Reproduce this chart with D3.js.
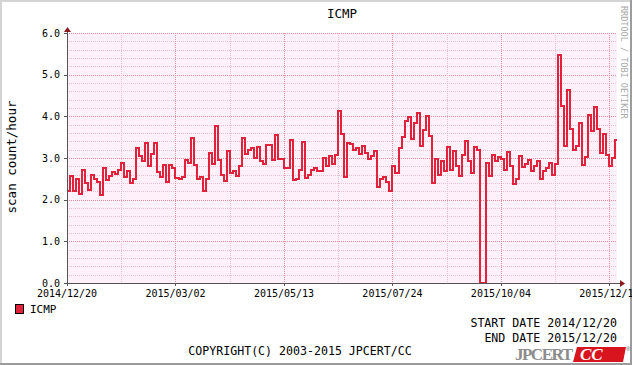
<!DOCTYPE html>
<html>
<head>
<meta charset="utf-8">
<script src="https://d3js.org/d3.v7.min.js"></script>
<style>
  html, body { margin: 0; padding: 0; background: #fff; }
</style>
</head>
<body>
<div id="chart"></div>
<script>
// ---- data ----
var startDate = "2014/12/20";
var endDate = "2015/12/20";
var stepDays = 2;   // one value per 2 days
var seriesName = "ICMP";
var values = [
  2.2, 2.56, 2.2, 2.5, 2.14, 2.72, 2.4, 2.24, 2.6, 2.5,
  2.42, 2.12, 2.75, 2.48, 2.58, 2.66, 2.62, 2.72, 2.88, 2.54,
  2.7, 2.4, 2.5, 3.24, 3.05, 2.92, 3.36, 2.8, 3.1, 3.36,
  2.66, 2.55, 2.84, 2.42, 2.84, 2.76, 2.52, 2.5, 2.55, 2.96,
  2.88, 3.48, 2.84, 2.5, 2.54, 2.2, 2.5, 3.12, 2.85, 3.76,
  2.95, 2.6, 2.44, 3.18, 2.64, 2.7, 2.56, 2.8, 3.48, 3.1,
  3.2, 3.24, 3.0, 3.26, 2.94, 2.85, 3.32, 3.32, 2.95, 3.56,
  2.98, 2.98, 2.75, 2.76, 3.44, 2.48, 2.5, 2.72, 3.38, 2.52,
  2.6, 2.72, 2.75, 2.7, 2.7, 3.0, 2.8, 3.05, 2.85, 3.08,
  4.14, 3.58, 2.55, 3.36, 3.34, 3.2, 3.24, 3.1, 3.3, 3.12,
  2.98, 3.04, 3.16, 2.3, 2.5, 2.55, 2.42, 2.22, 2.8, 2.65,
  3.24, 3.5, 3.88, 3.98, 3.46, 3.84, 4.08, 3.28, 3.68, 4.02,
  3.52, 2.4, 2.98, 2.6, 2.94, 2.68, 3.26, 2.72, 3.18, 2.8,
  2.56, 3.08, 3.4, 2.94, 2.64, 3.26, 3.2, 0, 0, 2.88,
  2.58, 3.08, 2.94, 3.02, 2.98, 2.72, 3.14, 2.8, 2.38, 2.5,
  3.04, 2.78, 2.85, 2.96, 2.7, 2.8, 2.92, 2.5, 2.7, 2.75,
  2.88, 2.6, 2.85, 5.48, 4.24, 3.3, 4.64, 3.7, 3.2, 3.3,
  3.84, 2.84, 3.02, 4.04, 3.64, 4.22, 3.7, 3.12, 3.58, 3.08,
  2.8, 3.0, 3.44
];
var yTicks = [0, 1, 2, 3, 4, 5, 6];
var xTickLabels = ["2014/12/20", "2015/03/02", "2015/05/13", "2015/07/24", "2015/10/04", "2015/12/15"];
var xMinorLabels = ["2015/01/25", "2015/04/07", "2015/06/18", "2015/08/29", "2015/11/09"];

(function(){
	var W = 632, H = 365;
	var pLeft = 67, pRight = 617, pTop = 33, pBottom = 283;
	var lineColor = "#e2223a";
	var mono = "'DejaVu Sans Mono', monospace";

	var parse = d3.utcParse("%Y/%m/%d");
	var fmt = d3.utcFormat("%Y/%m/%d");
	var t0 = parse(startDate), t1 = parse(endDate);

	var points = values.map(function(v, i){
		return { date: d3.utcDay.offset(t0, i*stepDays), value: v };
	});
	// close the last step at the end date
	points.push({ date: t1, value: values[values.length-1] });

	var x = d3.scaleUtc().domain([t0, t1]).range([pLeft, pRight]);
	var y = d3.scaleLinear().domain([0, 6]).range([pBottom, pTop]);

	var svg = d3.select("#chart").append("svg")
		.attr("width", W)
		.attr("height", H)
		.style("font-family", mono);

	// frame
	svg.append("rect").attr("x", 0).attr("y", 0).attr("width", W).attr("height", H).attr("fill", "#fff");
	svg.append("path").attr("d", "M0," + H + "V0H" + W).attr("fill", "none").attr("stroke", "#d4d4d4").attr("stroke-width", 4);
	svg.append("path").attr("d", "M" + W + ",0V" + H + "H0").attr("fill", "none").attr("stroke", "#9c9c9c").attr("stroke-width", 4);

	// plot background
	svg.append("rect")
		.attr("x", pLeft).attr("y", pTop)
		.attr("width", pRight - pLeft).attr("height", pBottom - pTop)
		.attr("fill", "#fff0fa");

	var grid = svg.append("g").attr("shape-rendering", "crispEdges");

	// horizontal grid
	var yMinor = d3.range(0.2, 6.01, 0.2).filter(function(v){ return Math.abs(v - Math.round(v)) > 0.01; });
	grid.selectAll(".hminor").data(yMinor).enter().append("line")
		.attr("x1", pLeft).attr("x2", pRight)
		.attr("y1", function(d){ return Math.round(y(d)) + 0.5; })
		.attr("y2", function(d){ return Math.round(y(d)) + 0.5; })
		.attr("stroke", "#e9bfd0").attr("stroke-dasharray", "1,1");
	grid.selectAll(".hmajor").data(yTicks.slice(1)).enter().append("line")
		.attr("x1", pLeft).attr("x2", pRight)
		.attr("y1", function(d){ return Math.round(y(d)) + 0.5; })
		.attr("y2", function(d){ return Math.round(y(d)) + 0.5; })
		.attr("stroke", "#e58c9c").attr("stroke-dasharray", "1,1");

	// vertical grid
	grid.selectAll(".vminor").data(xMinorLabels).enter().append("line")
		.attr("x1", function(d){ return Math.round(x(parse(d))) + 0.5; })
		.attr("x2", function(d){ return Math.round(x(parse(d))) + 0.5; })
		.attr("y1", pTop).attr("y2", pBottom)
		.attr("stroke", "#e9bfd0").attr("stroke-dasharray", "1,1");
	grid.selectAll(".vmajor").data(xTickLabels.slice(1)).enter().append("line")
		.attr("x1", function(d){ return Math.round(x(parse(d))) + 0.5; })
		.attr("x2", function(d){ return Math.round(x(parse(d))) + 0.5; })
		.attr("y1", pTop).attr("y2", pBottom)
		.attr("stroke", "#e58c9c").attr("stroke-dasharray", "1,1");

	// series
	svg.append("clipPath").attr("id", "clip")
		.append("rect").attr("x", pLeft).attr("y", pTop - 5).attr("width", pRight - pLeft).attr("height", pBottom - pTop + 5);

	var line = d3.line()
		.x(function(d){ return x(d.date); })
		.y(function(d){ return y(d.value); })
		.curve(d3.curveStepAfter);

	svg.append("path")
		.datum(points)
		.attr("clip-path", "url(#clip)")
		.attr("d", line)
		.attr("fill", "none")
		.attr("stroke", lineColor)
		.attr("stroke-width", 2)
		.attr("shape-rendering", "crispEdges")
		.attr("stroke-linejoin", "miter");

	// axes
	var ax = svg.append("g").attr("shape-rendering", "crispEdges");
	ax.append("line").attr("x1", pLeft + 0.5).attr("x2", pLeft + 0.5).attr("y1", pTop - 2).attr("y2", pBottom + 3)
		.attr("stroke", "#555");
	ax.append("line").attr("x1", pLeft - 3).attr("x2", pRight + 4).attr("y1", pBottom + 0.5).attr("y2", pBottom + 0.5)
		.attr("stroke", "#555");
	svg.append("path").attr("d", "M" + (pLeft - 3) + "," + (pTop - 1) + "L" + (pLeft + 0.5) + "," + (pTop - 6) + "L" + (pLeft + 4) + "," + (pTop - 1) + "Z")
		.attr("fill", "#8b1a1a");
	svg.append("path").attr("d", "M" + (pRight + 3) + "," + (pBottom - 3) + "L" + (pRight + 8) + "," + (pBottom + 0.5) + "L" + (pRight + 3) + "," + (pBottom + 4) + "Z")
		.attr("fill", "#8b1a1a");

	// y ticks + labels
	ax.selectAll(".ytick").data(yTicks).enter().append("line")
		.attr("x1", pLeft - 3).attr("x2", pLeft)
		.attr("y1", function(d){ return Math.round(y(d)) + 0.5; })
		.attr("y2", function(d){ return Math.round(y(d)) + 0.5; })
		.attr("stroke", "#555");
	svg.selectAll(".ylab").data(yTicks).enter().append("text")
		.attr("x", pLeft - 7)
		.attr("y", function(d){ return y(d); })
		.attr("dy", "0.35em")
		.attr("text-anchor", "end")
		.attr("font-size", 10)
		.text(function(d){ return d.toFixed(1); });

	// x ticks + labels
	ax.selectAll(".xtick").data(xTickLabels).enter().append("line")
		.attr("x1", function(d){ return Math.round(x(parse(d))) + 0.5; })
		.attr("x2", function(d){ return Math.round(x(parse(d))) + 0.5; })
		.attr("y1", pBottom).attr("y2", pBottom + 3)
		.attr("stroke", "#555");
	svg.selectAll(".xlab").data(xTickLabels).enter().append("text")
		.attr("x", function(d){ return x(parse(d)); })
		.attr("y", pBottom + 10)
		.attr("dy", "0.35em")
		.attr("text-anchor", "middle")
		.attr("font-size", 10)
		.text(function(d){ return fmt(parse(d)); });

	// title and axis label
	svg.append("text").attr("x", 342).attr("y", 14).attr("dy", "0.35em")
		.attr("text-anchor", "middle").attr("font-size", 12.5).text(seriesName);
	svg.append("text").attr("transform", "translate(12,157) rotate(-90)")
		.attr("dy", "0.35em").attr("text-anchor", "middle").attr("font-size", 12.5)
		.text("scan count/hour");
	svg.append("text").attr("transform", "translate(624,6) rotate(90)")
		.attr("dy", "0.35em").attr("text-anchor", "start").attr("font-size", 8.5)
		.attr("fill", "#a8a8a8").text("RRDTOOL / TOBI OETIKER");

	// legend
	svg.append("rect").attr("x", 15.5).attr("y", 304.5).attr("width", 8).attr("height", 9)
		.attr("fill", lineColor).attr("stroke", "#000");
	svg.append("text").attr("x", 30).attr("y", 309).attr("dy", "0.35em")
		.attr("font-size", 11).text(seriesName);

	// dates & copyright
	svg.append("text").attr("x", 617).attr("y", 323).attr("dy", "0.35em")
		.attr("text-anchor", "end").attr("font-size", 11.6).text("START DATE " + startDate);
	svg.append("text").attr("x", 617).attr("y", 338).attr("dy", "0.35em")
		.attr("text-anchor", "end").attr("font-size", 11.6).text("END DATE " + endDate);
	svg.append("text").attr("x", 300).attr("y", 351).attr("dy", "0.35em")
		.attr("text-anchor", "middle").attr("font-size", 11.6).text("COPYRIGHT(C) 2003-2015 JPCERT/CC");

	// logo
	var logo = svg.append("g");
	logo.append("text").attr("x", 515).attr("y", 360)
		.style("font-family", "'Liberation Serif', serif").attr("font-weight", "bold")
		.attr("font-size", 17).attr("fill", "#8c8c8c").attr("textLength", 58).text("JPCERT");
	logo.append("path").attr("d", "M577,347H626L623,362H573Z").attr("fill", "#d8141e");
	logo.append("text").attr("x", 580).attr("y", 360)
		.style("font-family", "'Liberation Serif', serif").attr("font-weight", "bold").attr("font-style", "italic")
		.attr("font-size", 17).attr("fill", "#fff").text("CC");
	logo.append("text").attr("x", 626).attr("y", 351)
		.style("font-family", "'Liberation Sans', sans-serif").attr("font-size", 6).attr("fill", "#555").text("®");
})();
</script>
</body>
</html>
